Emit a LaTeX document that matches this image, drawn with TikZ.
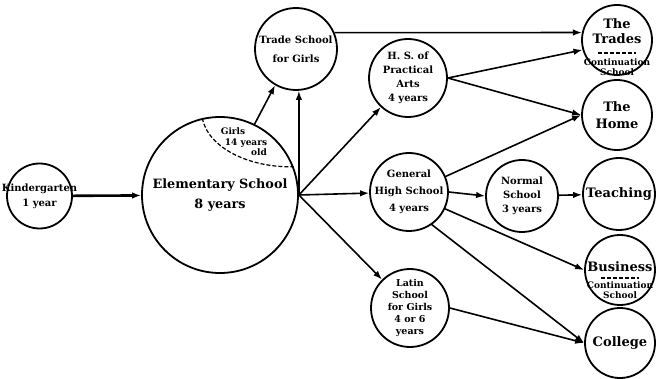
\documentclass[tikz,border=0pt]{standalone}
\usepackage{fontspec}
\setmainfont{DejaVu Serif}
\usetikzlibrary{arrows.meta}

\begin{document}
\begin{tikzpicture}[
    x=1pt, y=1pt,
    school/.style={draw, circle, line width=1.8pt, inner sep=-12pt, align=center, font=\bfseries\fontsize{10}{14}\selectfont},
    goal/.style={school, minimum size=70pt, font=\bfseries\fontsize{13}{17}\selectfont},
    goaltext/.style={align=center, inner sep=0pt, font=\bfseries\fontsize{13}{15}\selectfont},
    small/.style={align=center, inner sep=0pt, font=\bfseries\fontsize{9}{10.5}\selectfont},
    split/.style={dash pattern=on 4pt off 2pt, line width=1.2pt},
    line/.style={-{Latex[length=9pt,width=6.5pt]}, line width=1.6pt}
  ]
    \useasboundingbox (0,0) rectangle (659,378);

    % schools
    \node[school, minimum size=65pt, font=\bfseries\fontsize{10}{15}\selectfont] (kinder) at (39.5,182) {Kindergarten\\1 year};
    \node[school, minimum size=156pt, font=\bfseries\fontsize{12.8}{20}\selectfont] (elem) at (220,183) {Elementary School\\8 years};
    \node[school, minimum size=82pt, font=\bfseries\fontsize{10}{19}\selectfont] (trade) at (296,329) {Trade School\\for Girls};
    \node[school, minimum size=78pt] (hspa) at (408,300) {H. S. of\\Practical\\Arts\\4 years};
    \node[school, minimum size=78pt, font=\bfseries\fontsize{10}{17}\selectfont] (general) at (409,186) {General\\High School\\4 years};
    \node[school, minimum size=78pt, font=\bfseries\fontsize{9.5}{12}\selectfont] (latin) at (410,70) {Latin\\School\\for Girls\\4 or 6\\years};
    \node[school, minimum size=72pt] (normal) at (522,182) {Normal\\School\\3 years};

    % where they lead
    \node[goal] (trades) at (617,338) {};
    \node[goal] (home) at (617,263) {The\\Home};
    \node[goal, minimum size=72pt] (teach) at (619,184) {Teaching};
    \node[goal] (business) at (620,108) {};
    \node[goal] (college) at (620,35) {College};

    \node[goaltext] (tradesname) at ([yshift=9pt]trades.center) {The\\Trades};
    \node[small] (tradescont) at ([yshift=-27pt]trades.center) {Continuation\\School};
    \draw[split] ([shift={(-19,-13)}]trades.center) -- ([shift={(19,-13)}]trades.center);

    \node[goaltext] (busname) at ([yshift=3pt]business.center) {Business};
    \node[small] (buscont) at ([yshift=-20pt]business.center) {Continuation\\School};
    \draw[split] ([shift={(-19,-8)}]business.center) -- ([shift={(19,-8)}]business.center);

    % girls part of the elementary school
    \draw[split] (elem.103) .. controls (208,230) and (250,210) .. (elem.21);
    \node[small] (girls) at (246,236) {Girls\hspace*{26pt}\\14 years\\\hspace*{26pt}old};

    \draw[line, line width=2.6pt] (kinder) -- (elem);
    \draw[line] (elem.64) -- (trade.240);
    \draw[line] (elem.east) -- (elem.east |- trade.south);
    \draw[line] (elem.east) -- (hspa);
    \draw[line] (elem.east) -- (general);
    \draw[line] (elem.east) -- (latin);
    \draw[line] (trade.23) -- (trades.168);
    \draw[line] (hspa.east) -- (trades.196);
    \draw[line] (hspa.east) -- (home.west);
    \draw[line] (general.23) -- (home.west);
    \draw[line] (general.east) -- (normal.west);
    \draw[line] (normal) -- (teach);
    \draw[line] (general.-25) -- (business.west);
    \draw[line] (general.-55) -- (college.west);
    \draw[line] (latin.east) -- (college.west);
\end{tikzpicture}
\end{document}
